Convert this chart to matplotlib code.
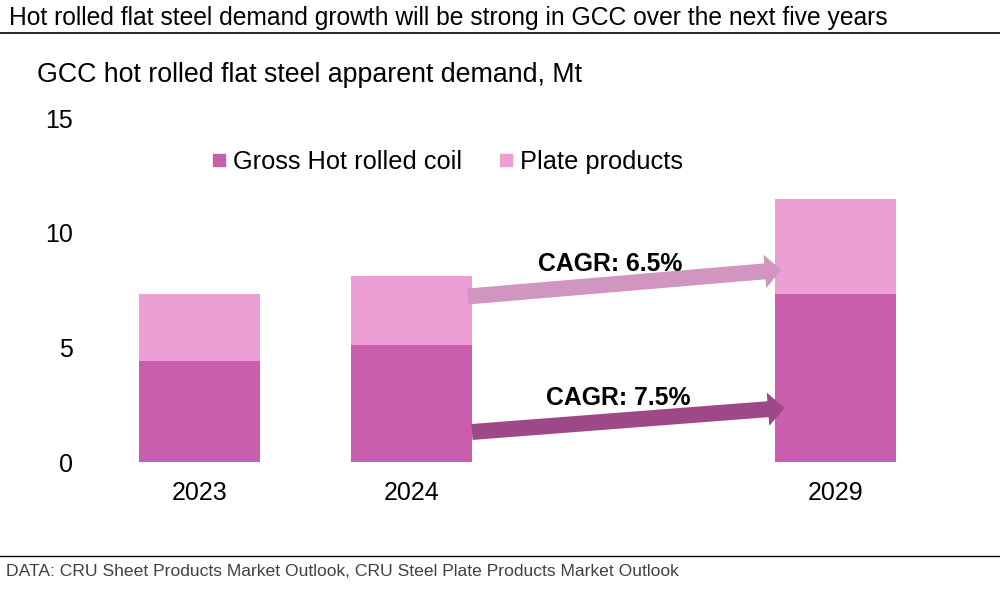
import matplotlib
matplotlib.use("Agg")
import matplotlib.pyplot as plt
from matplotlib.lines import Line2D

# ---- data ----
years = ["2023", "2024", "2029"]
hrc = [4.41, 5.11, 7.34]          # Gross Hot rolled coil, Mt
plate = [2.93, 3.01, 4.14]        # Plate products, Mt
series_names = ["Gross Hot rolled coil", "Plate products"]
cagr_labels = ["CAGR: 6.5%", "CAGR: 7.5%"]
yticks = [0, 5, 10, 15]

title = "Hot rolled flat steel demand growth will be strong in GCC over the next five years"
subtitle = "GCC hot rolled flat steel apparent demand, Mt"
source = "DATA: CRU Sheet Products Market Outlook, CRU Steel Plate Products Market Outlook"

# ---- style ----
plt.rcParams['font.family'] = ['Liberation Sans', 'DejaVu Sans']
c_hrc = "#C95EAE"
c_plate = "#EB9FD4"
c_arrow_plate = "#D096C0"
c_arrow_hrc = "#9E4888"

fig = plt.figure(figsize=(10, 5.9), dpi=100)
ax = fig.add_axes([0.0935, 0.2169, 0.848, 0.5831])

pos = [0, 1, 3]   # 2029 sits after a gap
width = 0.57
ax.bar(pos, hrc, width=width, color=c_hrc, label=series_names[0])
ax.bar(pos, plate, width=width, bottom=hrc, color=c_plate, label=series_names[1])

ax.set_xlim(-0.5, 3.5)
ax.set_ylim(0, 15)
ax.set_yticks(yticks)
ax.set_yticklabels([str(v) for v in yticks])
ax.set_xticks(pos)
ax.set_xticklabels(years)
ax.tick_params(axis='both', length=0, labelsize=18)
ax.tick_params(axis='y', pad=15)
ax.tick_params(axis='x', pad=14)
for s in ax.spines.values():
    s.set_visible(False)

# legend
handles = [Line2D([], [], marker='s', linestyle='none', markersize=8.6,
                  markerfacecolor=c, markeredgecolor=c) for c in (c_hrc, c_plate)]
fig.legend(handles, series_names, loc='center left', bbox_to_anchor=(0.213, 0.725),
           bbox_transform=fig.transFigure, ncol=2, frameon=False, fontsize=18.3,
           handlelength=0.5, handletextpad=0.28, columnspacing=1.5, borderpad=0,
           borderaxespad=0)

# CAGR arrows
x0 = pos[1] + width / 2 - 0.02
x1 = pos[2] - width / 2 + 0.03
arrow_style = 'simple,head_length=12,head_width=24,tail_width=11.5'
ax.annotate('', xy=(x1, hrc[2] + 0.25 * plate[2]), xytext=(x0, hrc[1] + 0.7 * plate[1]),
            arrowprops=dict(arrowstyle=arrow_style, mutation_scale=1, color=c_arrow_plate,
                            shrinkA=0, shrinkB=0, linewidth=0))
ax.annotate('', xy=(x1 + 0.015, 2.36), xytext=(x0 + 0.02, 1.31),
            arrowprops=dict(arrowstyle=arrow_style, mutation_scale=1, color=c_arrow_hrc,
                            shrinkA=0, shrinkB=0, linewidth=0))
ax.text(1.936, 8.64, cagr_labels[0], ha='center', va='center', fontsize=17.8,
        fontweight='bold')
ax.text(1.974, 2.80, cagr_labels[1], ha='center', va='center', fontsize=17.8,
        fontweight='bold')

# titles and source
fig.text(0.009, 1 - 25 / 590, title, ha='left', va='baseline', fontsize=17.7)
fig.add_artist(Line2D([0, 1], [1 - 32.5 / 590] * 2, color='black', lw=1.2,
                      transform=fig.transFigure))
fig.text(0.037, 1 - 82 / 590, subtitle, ha='left', va='baseline', fontsize=19.3)
fig.add_artist(Line2D([0, 1], [1 - 556 / 590] * 2, color='black', lw=1.0,
                      transform=fig.transFigure))
fig.text(0.006, 1 - 576 / 590, source, ha='left', va='baseline', fontsize=12.6,
         color='#404040')

fig.savefig("out.png", dpi=100)
